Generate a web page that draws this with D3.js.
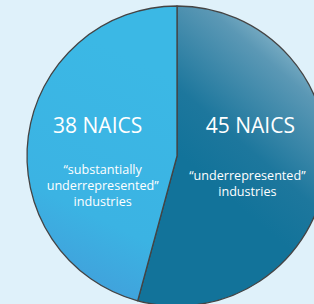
<!DOCTYPE html>
<html>
<head>
<meta charset="utf-8">
<script src="https://cdn.jsdelivr.net/npm/d3@7"></script>
<style>
  html, body { margin: 0; padding: 0; background: #dff1fa; }
  svg { display: block; }
</style>
</head>
<body>
<div id="chart"></div>
<script>
// ---------- data ----------
var counts = [45, 38];
var titles = ['45 NAICS', '38 NAICS'];
var notes = [
  ['\u201Cunderrepresented\u201D', 'industries'],
  ['\u201Csubstantially', 'underrepresented\u201D', 'industries']
];

var W = 314, H = 304, CX = 177, CY = 156, R = 150;
var svg = d3.select('#chart').append('svg').attr('width', W).attr('height', H);
svg.append('rect').attr('width', W).attr('height', H).attr('fill', '#dff1fa');

var defs = svg.append('defs');
function grad(id, x1, y1, x2, y2, stops) {
  var g = defs.append('linearGradient').attr('id', id).attr('gradientUnits', 'userSpaceOnUse')
    .attr('x1', x1).attr('y1', y1).attr('x2', x2).attr('y2', y2);
  stops.forEach(function (s) { g.append('stop').attr('offset', s[0]).attr('stop-color', s[1]); });
}
grad('g-dark', 330, 20, 200, 170, [[0, '#b8d7e2'], [0.35, '#5b98b5'], [0.75, '#1d779d'], [1, '#12739a']]);
grad('g-light', 177, 10, 50, 270, [[0, '#3bb8e5'], [0.55, '#3bb3e3'], [1, '#4690d4']]);
var fills = ['url(#g-dark)', 'url(#g-light)'];

var pie = d3.pie().sort(null).startAngle(0).endAngle(2 * Math.PI);
var arc = d3.arc().innerRadius(0).outerRadius(R);
var arcs = pie(counts);

var g = svg.append('g').attr('transform', 'translate(' + CX + ',' + CY + ')');
g.selectAll('path').data(arcs).join('path')
  .attr('d', arc).attr('fill', function (d, i) { return fills[i]; })
  .attr('stroke', '#444').attr('stroke-width', 1.3).attr('stroke-linejoin', 'round');

// labels: x from the slice centroid (nudged), y set per block
var labelArc = d3.arc().innerRadius(75).outerRadius(75);
var FONT = '"Open Sans", sans-serif';
var titleDx = [-1, -5], noteDx = [-4, 0], noteY = [24, 18];
var lab = g.selectAll('g.lab').data(arcs).join('g').attr('class', 'lab')
  .attr('transform', function (d) { return 'translate(' + labelArc.centroid(d)[0] + ',0)'; });
lab.append('text').attr('x', function (d, i) { return titleDx[i]; }).attr('y', -23)
  .attr('text-anchor', 'middle').attr('fill', '#fff')
  .attr('font-family', FONT).attr('font-size', 21).text(function (d, i) { return titles[i]; });
lab.each(function (d, i) {
  var t = d3.select(this).append('text').attr('text-anchor', 'middle').attr('fill', '#fff')
    .attr('font-family', FONT).attr('font-size', 12.6).attr('y', noteY[i]);
  notes[i].forEach(function (s, k) { t.append('tspan').attr('x', noteDx[i]).attr('dy', k ? 16 : 0).text(s); });
});
</script>
</body>
</html>
